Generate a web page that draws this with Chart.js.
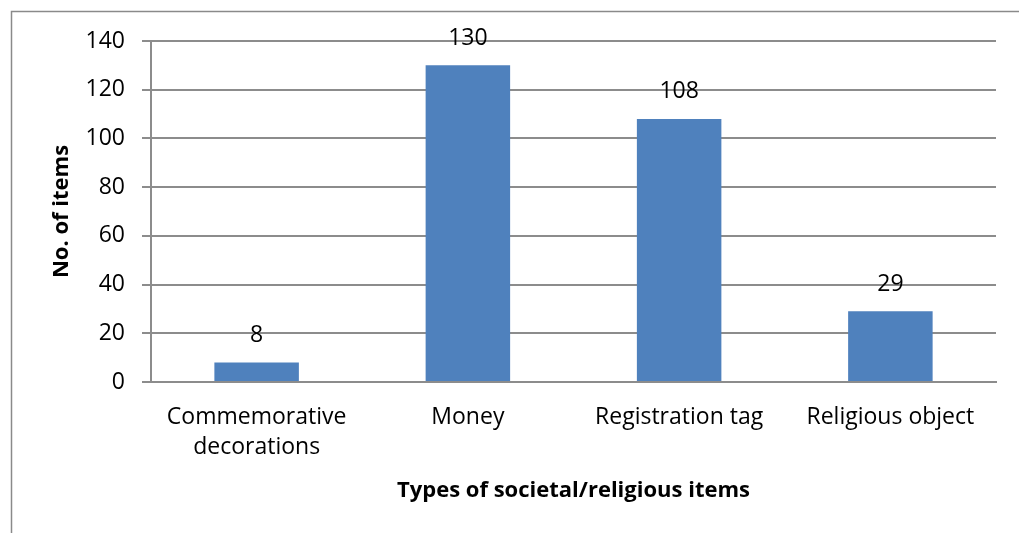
<!DOCTYPE html>
<html>
<head>
<meta charset="utf-8">
<script src="https://cdn.jsdelivr.net/npm/chart.js@4.4.1/dist/chart.umd.min.js"></script>
<style>
  html, body { margin: 0; padding: 0; background: #fff; }
  #wrap { position: relative; width: 1019px; height: 533px; }
</style>
</head>
<body>
<div id="wrap"><canvas id="chart" width="1019" height="533"></canvas></div>
<script>
// Item counts by type
const categories = [["Commemorative", "decorations"], "Money", "Registration tag", "Religious object"];
const itemCounts = [8, 130, 108, 29];
const yTicks = [0, 20, 40, 60, 80, 100, 120, 140];

const FONT = "'Open Sans', sans-serif";
const GRID = '#8c8c8c';

// Outer frame (left and top edges) behind the chart
const framePlugin = {
  id: 'frame',
  beforeDraw(chart) {
    const ctx = chart.ctx;
    ctx.save();
    ctx.fillStyle = '#fff';
    ctx.fillRect(0, 0, chart.width, chart.height);
    ctx.strokeStyle = '#8a8a8a';
    ctx.lineWidth = 1.5;
    ctx.beginPath();
    ctx.moveTo(11.5, chart.height);
    ctx.lineTo(11.5, 11.5);
    ctx.lineTo(chart.width, 11.5);
    ctx.stroke();
    ctx.restore();
  }
};

// Value labels above each bar
const valueLabels = {
  id: 'valueLabels',
  afterDatasetsDraw(chart) {
    const ctx = chart.ctx;
    const meta = chart.getDatasetMeta(0);
    ctx.save();
    ctx.font = '23px ' + FONT;
    ctx.fillStyle = '#000';
    ctx.textAlign = 'center';
    ctx.textBaseline = 'middle';
    meta.data.forEach((bar, i) => {
      ctx.fillText(String(itemCounts[i]), bar.x, bar.y - 27);
    });
    ctx.restore();
  }
};

new Chart(document.getElementById('chart'), {
  type: 'bar',
  data: {
    labels: categories,
    datasets: [{
      data: itemCounts,
      backgroundColor: '#4f81bd',
      borderWidth: 0,
      categoryPercentage: 0.8,
      barPercentage: 0.5
    }]
  },
  options: {
    responsive: false,
    animation: false,
    events: [],
    layout: { padding: { top: 41, right: 23, bottom: 0, left: 0 } },
    plugins: {
      legend: { display: false },
      tooltip: { enabled: false },
      title: { display: false }
    },
    scales: {
      x: {
        grid: { display: false, drawTicks: false },
        border: { display: true, color: GRID, width: 2 },
        ticks: {
          color: '#000',
          font: { family: FONT, size: 23, lineHeight: 1.3 },
          padding: 21,
          maxRotation: 0,
          autoSkip: false
        },
        title: {
          display: true,
          text: 'Types of societal/religious items',
          color: '#000',
          font: { family: FONT, size: 22, weight: 'bold' },
          padding: { top: 0, bottom: 29 }
        },
        afterFit(scale) { scale.height = 151; }
      },
      y: {
        min: 0,
        max: 140,
        afterBuildTicks(scale) { scale.ticks = yTicks.map(v => ({ value: v })); },
        grid: { color: GRID, lineWidth: 2, tickLength: 9, tickColor: GRID },
        border: { display: true, color: GRID, width: 2 },
        ticks: {
          color: '#000',
          font: { family: FONT, size: 23 },
          padding: 17
        },
        title: {
          display: true,
          text: 'No. of items',
          color: '#000',
          font: { family: FONT, size: 22, weight: 'bold' },
          padding: { top: 49, bottom: 0 }
        },
        afterFit(scale) { scale.width = 151; }
      }
    }
  },
  plugins: [framePlugin, valueLabels]
});
</script>
</body>
</html>
